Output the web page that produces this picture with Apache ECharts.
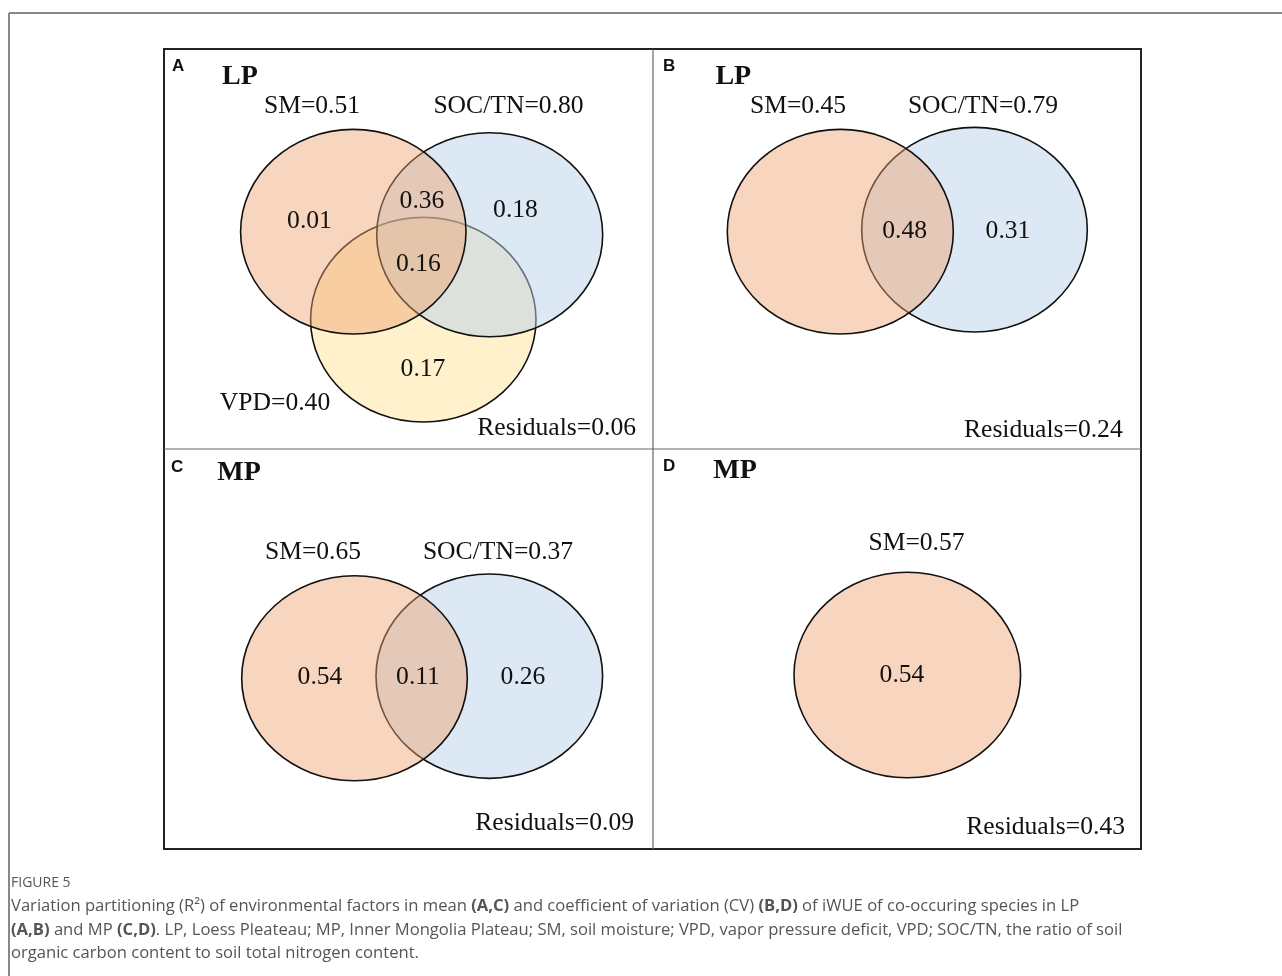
<!DOCTYPE html>
<html><head><meta charset="utf-8">
<script src="https://cdn.jsdelivr.net/npm/echarts/dist/echarts.min.js"></script>
<style>html,body{margin:0;padding:0;background:#fff}#c{width:1282px;height:976px}</style>
</head><body><div id="c"></div><script>
// ---------- DATA ----------
const panelLetters = ['A', 'B', 'C', 'D'];
const panelSites = ['LP', 'LP', 'MP', 'MP'];
const factorNames = [['VPD', 'SOC/TN', 'SM'], ['SOC/TN', 'SM'], ['SOC/TN', 'SM'], ['SM']];
const factorR2 = [[0.40, 0.80, 0.51], [0.79, 0.45], [0.37, 0.65], [0.57]];
const fractionValues = [[0.01, 0.36, 0.18, 0.16, 0.17], [0.48, 0.31], [0.54, 0.11, 0.26], [0.54]];
const residualValues = [0.06, 0.24, 0.09, 0.43];

// ---------- LAYOUT (panel-local px units), same order as factorNames ----------
const panelBoxes = [[164, 49, 489, 400], [653, 49, 488, 400], [164, 449, 489, 400], [653, 449, 488, 400]];
const ellipseLayout = [
  [[259.3, 270.7, 112.7, 102.3], [325.7, 185.7, 113, 102], [189.3, 182.7, 112.7, 102.3]],
  [[321.5, 180.7, 112.8, 102.3], [187.3, 182.7, 113, 102.3]],
  [[325.3, 227.2, 113.3, 102.2], [190.5, 229.2, 112.8, 102.5]],
  [[254.3, 226, 113.3, 102.7]]
];
const factorLabelPos = [
  [[111, 354], [344.5, 57], [148, 57]],
  [[330, 57], [145, 57]],
  [[334, 103], [149, 103]],
  [[263.5, 94]]
];
const fractionLabelPos = [
  [[145.5, 172], [258, 152], [351.5, 161], [254.5, 215], [259, 320]],
  [[251.7, 182], [355, 182]],
  [[156, 228], [254, 228], [359, 228]],
  [[249, 226.5]]
];
const residualPos = [[472, 379], [469.7, 381], [470, 374], [472, 378]];
const letterPos = [[8, 17], [10, 17], [7, 18], [10, 17]];
const sitePos = [[76, 28], [80.3, 28], [75, 24], [82, 22]];

const FILL = {
  'VPD': '#FFF1CB',
  'SOC/TN': 'rgba(185,211,235,0.5)',
  'SM': 'rgba(239,162,111,0.45)'
};
const SERIF = '"Liberation Serif", "Times New Roman", serif';
const SZ = '25.6px ';

const grids = [], xAxes = [], yAxes = [], series = [];
panelBoxes.forEach((b, p) => {
  grids.push({ left: b[0], top: b[1], width: b[2], height: b[3], show: false });
  xAxes.push({ type: 'value', gridIndex: p, min: 0, max: b[2], show: false });
  yAxes.push({ type: 'value', gridIndex: p, min: 0, max: b[3], inverse: true, show: false });

  series.push({
    type: 'custom', coordinateSystem: 'cartesian2d', xAxisIndex: p, yAxisIndex: p,
    silent: true, animation: false,
    data: ellipseLayout[p].map((e, i) => [e[0], e[1], e[2], e[3], i]),
    renderItem: (params, api) => {
      const c = api.coord([api.value(0), api.value(1)]);
      const s = api.size([api.value(2), api.value(3)]);
      const name = factorNames[p][api.value(4)];
      return {
        type: 'ellipse',
        shape: { cx: c[0], cy: c[1], rx: s[0], ry: s[1] },
        style: { fill: FILL[name], stroke: '#111', lineWidth: 1.6 }
      };
    }
  });

  const texts = [];
  texts.push({ pos: letterPos[p], text: panelLetters[p], font: 'bold 17px "Liberation Sans", Arial, sans-serif', align: 'left' });
  texts.push({ pos: sitePos[p], text: panelSites[p], font: 'bold 28px ' + SERIF, align: 'center' });
  factorNames[p].forEach((n, i) => texts.push({ pos: factorLabelPos[p][i], text: n + '=' + factorR2[p][i].toFixed(2), font: SZ + SERIF, align: 'center' }));
  fractionValues[p].forEach((v, i) => texts.push({ pos: fractionLabelPos[p][i], text: v.toFixed(2), font: SZ + SERIF, align: 'center' }));
  texts.push({ pos: residualPos[p], text: 'Residuals=' + residualValues[p].toFixed(2), font: SZ + SERIF, align: 'right' });

  series.push({
    type: 'custom', coordinateSystem: 'cartesian2d', xAxisIndex: p, yAxisIndex: p,
    silent: true, animation: false, z: 5,
    data: texts.map((t, i) => [t.pos[0], t.pos[1], i]),
    renderItem: (params, api) => {
      const t = texts[api.value(2)];
      const c = api.coord([api.value(0), api.value(1)]);
      return {
        type: 'text', x: c[0], y: c[1],
        style: { text: t.text, font: t.font, fill: '#111', align: t.align, verticalAlign: 'middle' }
      };
    }
  });
});

const CAP_FONT = '"Open Sans", "Noto Sans", sans-serif';
const captionLines = [
  'Variation partitioning (R\u00B2) of environmental factors in mean {b|(A,C)} and coefficient of variation (CV) {b|(B,D)} of iWUE of co-occuring species in LP',
  '{b|(A,B)} and MP {b|(C,D)}. LP, Loess Pleateau; MP, Inner Mongolia Plateau; SM, soil moisture; VPD, vapor pressure deficit, VPD; SOC/TN, the ratio of soil',
  'organic carbon content to soil total nitrogen content.'
];
const captionY = [906, 930, 953];

const graphic = [
  { type: 'line', shape: { x1: 9, y1: 13, x2: 1282, y2: 13 }, style: { stroke: '#888', lineWidth: 2 } },
  { type: 'line', shape: { x1: 9, y1: 13, x2: 9, y2: 976 }, style: { stroke: '#888', lineWidth: 2 } },
  { type: 'rect', shape: { x: 164, y: 49, width: 977, height: 800 }, style: { fill: 'none', stroke: '#222', lineWidth: 2 }, z: 10 },
  { type: 'line', shape: { x1: 653, y1: 49, x2: 653, y2: 849 }, style: { stroke: '#666', lineWidth: 1.2 }, z: 10 },
  { type: 'line', shape: { x1: 164, y1: 449, x2: 1141, y2: 449 }, style: { stroke: '#666', lineWidth: 1.2 }, z: 10 },
  { type: 'text', x: 11, y: 883, style: { text: 'FIGURE 5', font: '14px ' + CAP_FONT, fill: '#555', verticalAlign: 'middle' } }
];
captionLines.forEach((l, i) => graphic.push({
  type: 'text', x: 11, y: captionY[i],
  style: { text: l, font: '16.6px ' + CAP_FONT, fill: '#555', verticalAlign: 'middle', rich: { b: { fontWeight: 'bold', fontSize: 16.6, fontFamily: CAP_FONT, fill: '#555' } } }
}));

const chart = echarts.init(document.getElementById('c'), null, { renderer: 'canvas' });
chart.setOption({
  animation: false,
  backgroundColor: '#fff',
  grid: grids, xAxis: xAxes, yAxis: yAxes, series: series, graphic: graphic
});
</script></body></html>
